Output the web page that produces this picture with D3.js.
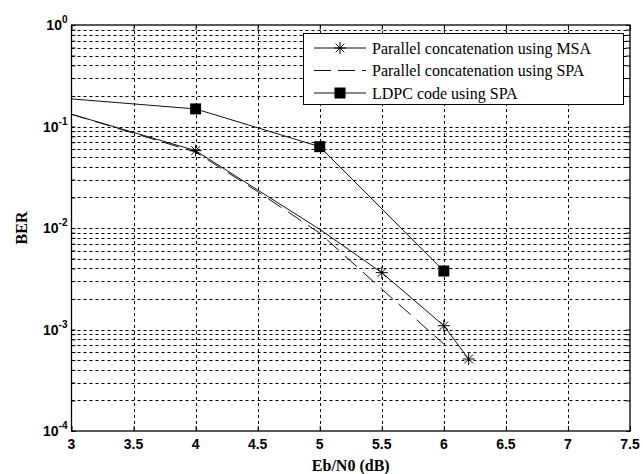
<!DOCTYPE html>
<html>
<head>
<meta charset="utf-8">
<script src="https://cdn.jsdelivr.net/npm/d3@7"></script>
<style>
  body { margin: 0; background: #fff; }
  svg { display: block; }
</style>
</head>
<body>
<svg id="chart" width="643" height="474"></svg>
<script>
// series
var msaX = [3, 4, 5, 5.5, 6, 6.2];
var msaBer = [0.132, 0.0578, 0.0097, 0.00363, 0.00109, 0.000512];
var msaMarkX = [4, 5.5, 6, 6.2];

var spaX = [3, 4, 4.5, 5, 5.5, 6];
var spaBer = [0.132, 0.056, 0.0228, 0.0089, 0.0025, 0.00072];

var ldpcX = [3, 4, 5, 6];
var ldpcBer = [0.187, 0.149, 0.0633, 0.00377];
var ldpcMarkX = [4, 5, 6];

var xTicks = [3, 3.5, 4, 4.5, 5, 5.5, 6, 6.5, 7, 7.5];
var yDecades = [0, -1, -2, -3, -4];
var legendLabels = ['Parallel concatenation using MSA', 'Parallel concatenation using SPA', 'LDPC code using SPA'];

var svg = d3.select('#chart');
var plotL = 71.5, plotR = 630, plotT = 25, plotB = 431;

var x = d3.scaleLinear().domain([3, 7.5]).range([plotL, plotR]);
var y = d3.scaleLog().domain([1e-4, 1]).range([plotB, plotT]);

svg.append('rect').attr('x', plotL).attr('y', plotT)
    .attr('width', plotR - plotL).attr('height', plotB - plotT)
    .style('fill', '#fff');

// grid
var minorVals = [];
for (var d = -4; d < 0; d++) {
    for (var k = 1; k <= 9; k++) {
        if (d === -4 && k === 1) continue;
        minorVals.push(k * Math.pow(10, d));
    }
}
var grid = svg.append('g').attr('class', 'grid')
    .style('stroke', '#000').style('stroke-width', 1).style('stroke-dasharray', '3,3');
grid.selectAll('.gy').data(minorVals).enter().append('line')
    .attr('x1', plotL).attr('x2', plotR)
    .attr('y1', function(v) { return Math.round(y(v)) + 0.5; })
    .attr('y2', function(v) { return Math.round(y(v)) + 0.5; });
grid.selectAll('.gx').data(xTicks.slice(1, -1)).enter().append('line')
    .attr('y1', plotT).attr('y2', plotB)
    .attr('x1', function(v) { return Math.round(x(v)) + 0.5; })
    .attr('x2', function(v) { return Math.round(x(v)) + 0.5; });

// axes with inward ticks on all four sides
var yTickVals = minorVals.concat([1e-4, 1]);
var xAxisB = d3.axisBottom(x).tickValues(xTicks).tickSizeInner(-5).tickSizeOuter(0).tickFormat('');
var xAxisT = d3.axisTop(x).tickValues(xTicks).tickSizeInner(-5).tickSizeOuter(0).tickFormat('');
var yAxisL = d3.axisLeft(y).tickValues(yTickVals).tickSizeInner(-4).tickSizeOuter(0).tickFormat('');
var yAxisR = d3.axisRight(y).tickValues(yTickVals).tickSizeInner(-4).tickSizeOuter(0).tickFormat('');
svg.append('g').attr('transform', 'translate(0,' + plotB + ')').call(xAxisB);
svg.append('g').attr('transform', 'translate(0,' + plotT + ')').call(xAxisT);
svg.append('g').attr('transform', 'translate(' + plotL + ',0)').call(yAxisL);
svg.append('g').attr('transform', 'translate(' + plotR + ',0)').call(yAxisR);
svg.selectAll('.domain').remove();
svg.selectAll('.tick line').style('stroke', '#000');

svg.append('rect').attr('x', plotL).attr('y', plotT)
    .attr('width', plotR - plotL).attr('height', plotB - plotT)
    .style('fill', 'none').style('stroke', '#000').style('stroke-width', 1.3);

// tick labels
svg.selectAll('.xl').data(xTicks).enter().append('text')
    .attr('x', function(v) { return x(v); })
    .attr('y', plotB + 18)
    .attr('text-anchor', 'middle')
    .style('font', 'bold 14px "Liberation Sans", Arial, sans-serif')
    .text(function(v) { return v; });

var yl = svg.selectAll('.yl').data(yDecades).enter().append('text')
    .attr('x', plotL - 4)
    .attr('y', function(e) { return y(Math.pow(10, e)) + 5; })
    .attr('text-anchor', 'end')
    .style('font', 'bold 14px "Liberation Sans", Arial, sans-serif');
yl.append('tspan').text('10');
yl.append('tspan').attr('dy', -7).style('font-size', '10px')
    .text(function(e) { return e === 0 ? '0' : '-' + (-e); });

// axis titles
svg.append('text')
    .attr('x', (plotL + plotR) / 2).attr('y', 471)
    .attr('text-anchor', 'middle')
    .style('font', 'bold 16px "Liberation Serif", "Times New Roman", serif')
    .text('Eb/N0 (dB)');
svg.append('text')
    .attr('transform', 'translate(27,' + ((plotT + plotB) / 2) + ') rotate(-90)')
    .attr('text-anchor', 'middle')
    .style('font', 'bold 16px "Liberation Serif", "Times New Roman", serif')
    .text('BER');

// curves
var line = d3.line()
    .x(function(p) { return x(p[0]); })
    .y(function(p) { return y(p[1]); });

function zipPts(xs, ys) {
    return xs.map(function(v, i) { return [v, ys[i]]; });
}

var plot = svg.append('g');
plot.append('path').datum(zipPts(msaX, msaBer)).attr('d', line)
    .style('fill', 'none').style('stroke', '#111').style('stroke-width', 1);
plot.append('path').datum(zipPts(spaX, spaBer)).attr('d', line)
    .style('fill', 'none').style('stroke', '#111').style('stroke-width', 1)
    .style('stroke-dasharray', '16,8');
plot.append('path').datum(zipPts(ldpcX, ldpcBer)).attr('d', line)
    .style('fill', 'none').style('stroke', '#111').style('stroke-width', 1);

function starPath(cx, cy, r) {
    var a = r * 0.72;
    return 'M' + (cx - r) + ',' + cy + 'H' + (cx + r) +
        'M' + cx + ',' + (cy - r) + 'V' + (cy + r) +
        'M' + (cx - a) + ',' + (cy - a) + 'L' + (cx + a) + ',' + (cy + a) +
        'M' + (cx - a) + ',' + (cy + a) + 'L' + (cx + a) + ',' + (cy - a);
}

plot.selectAll('.star').data(msaMarkX).enter().append('path')
    .attr('d', function(v) { return starPath(x(v), y(msaBer[msaX.indexOf(v)]), 6); })
    .style('stroke', '#000').style('stroke-width', 1).style('fill', 'none');

plot.selectAll('.sq').data(ldpcMarkX).enter().append('rect')
    .attr('x', function(v) { return x(v) - 5.5; })
    .attr('y', function(v) { return y(ldpcBer[ldpcX.indexOf(v)]) - 5.5; })
    .attr('width', 11).attr('height', 11)
    .style('fill', '#000');

// legend
var lg = svg.append('g');
lg.append('rect').attr('x', 303.5).attr('y', 33.5).attr('width', 320).attr('height', 71)
    .style('fill', '#fff').style('stroke', '#000').style('stroke-width', 1);
var rows = lg.selectAll('.row').data(legendLabels).enter().append('g')
    .attr('transform', function(t, i) { return 'translate(0,' + (48 + i * 22.5) + ')'; });
rows.append('line')
    .attr('x1', 314).attr('x2', 366).attr('y1', 0).attr('y2', 0)
    .style('stroke', '#111').style('stroke-width', 1)
    .style('stroke-dasharray', function(t, i) { return i === 1 ? '17,7' : null; });
rows.append('text')
    .attr('x', 372).attr('y', 5.5)
    .style('font', '16px "Liberation Serif", "Times New Roman", serif')
    .text(function(t) { return t; });
rows.filter(function(t, i) { return i === 0; }).append('path')
    .attr('d', starPath(340, 0, 6)).style('stroke', '#000').style('fill', 'none');
rows.filter(function(t, i) { return i === 2; }).append('rect')
    .attr('x', 334.5).attr('y', -5.5).attr('width', 11).attr('height', 11)
    .style('fill', '#000');
</script>
</body>
</html>
